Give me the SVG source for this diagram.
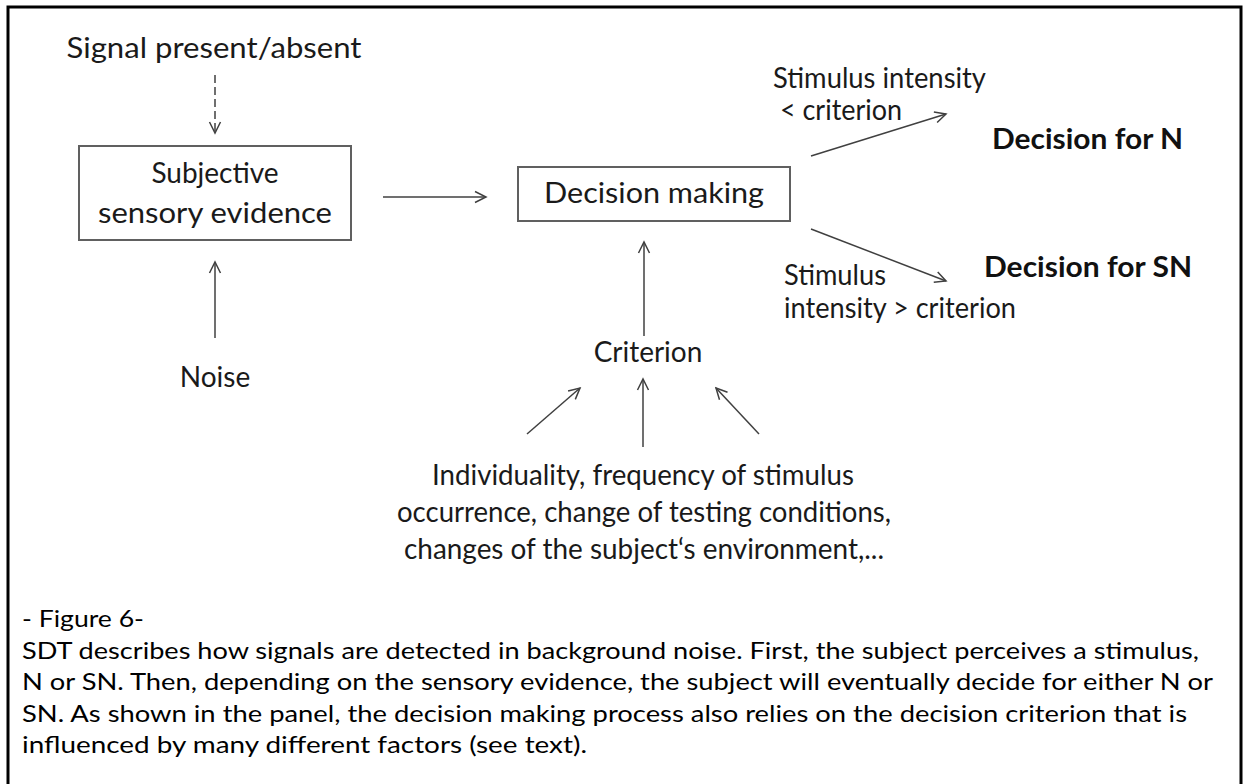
<svg xmlns="http://www.w3.org/2000/svg" width="1244" height="784" viewBox="0 0 1244 784">
<defs>
<marker id="arr" markerUnits="userSpaceOnUse" markerWidth="14" markerHeight="14" viewBox="0 0 14 14" refX="12" refY="7" orient="auto">
<path d="M1,1.5 L12,7 L1,12.5" fill="none" stroke="#404040" stroke-width="1.5"/>
</marker>
</defs>
<style>
text{font-family:Lato,"Open Sans","Liberation Sans",sans-serif;fill:#1a1a1a;}
.t{font-size:28px;}
.b{font-size:28px;font-weight:bold;fill:#111;}
.c{font-size:23.5px;fill:#000;}
.box{fill:#fff;stroke:#606060;stroke-width:2;}
.ln{stroke:#404040;stroke-width:1.5;fill:none;marker-end:url(#arr);}
</style>
<rect width="1244" height="784" fill="#fff"/>
<rect x="8" y="7" width="1233" height="800" fill="none" stroke="#000" stroke-width="3"/>
<g id="connectors">
<line class="ln" x1="215" y1="75" x2="215" y2="133" stroke-dasharray="8,4"/>
<line class="ln" x1="215" y1="338" x2="215" y2="262"/>
<line class="ln" x1="383" y1="197" x2="486" y2="197"/>
<line class="ln" x1="644" y1="336" x2="644" y2="242"/>
<line class="ln" x1="811" y1="156" x2="946" y2="114"/>
<line class="ln" x1="811" y1="229" x2="946" y2="281"/>
<line class="ln" x1="527" y1="434" x2="580" y2="388"/>
<line class="ln" x1="643" y1="447" x2="643" y2="379"/>
<line class="ln" x1="759" y1="434" x2="716" y2="388"/>
</g>
<g id="signal"><text class="t" x="214" y="58" text-anchor="middle" textLength="295" lengthAdjust="spacingAndGlyphs">Signal present/absent</text></g>
<g id="subjective">
<rect class="box" x="79" y="146" width="272" height="94"/>
<text class="t" x="215" y="183" text-anchor="middle">Subjective</text>
<text class="t" x="215" y="223" text-anchor="middle" textLength="234" lengthAdjust="spacingAndGlyphs">sensory evidence</text>
</g>
<g id="noise"><text class="t" x="215" y="387" text-anchor="middle">Noise</text></g>
<g id="decision">
<rect class="box" x="518" y="167" width="272" height="54"/>
<text class="t" x="654" y="203" text-anchor="middle" textLength="220" lengthAdjust="spacingAndGlyphs">Decision making</text>
</g>
<g id="criterion"><text class="t" x="648" y="362" text-anchor="middle">Criterion</text></g>
<g id="factors">
<text class="t" x="643" y="485" text-anchor="middle" textLength="422" lengthAdjust="spacingAndGlyphs">Individuality, frequency of stimulus</text>
<text class="t" x="644" y="522" text-anchor="middle" textLength="494" lengthAdjust="spacingAndGlyphs">occurrence, change of testing conditions,</text>
<text class="t" x="644" y="559" text-anchor="middle" textLength="480" lengthAdjust="spacingAndGlyphs">changes of the subject‘s environment,...</text>
</g>
<g id="stim-low-label">
<text class="t" x="773" y="88" textLength="213" lengthAdjust="spacingAndGlyphs">Stimulus intensity</text>
<text class="t" x="780" y="120" textLength="122" lengthAdjust="spacingAndGlyphs">&lt; criterion</text>
</g>
<g id="decision-n"><text class="b" x="992" y="149" textLength="191" lengthAdjust="spacingAndGlyphs">Decision for N</text></g>
<g id="decision-sn"><text class="b" x="984" y="277" textLength="208" lengthAdjust="spacingAndGlyphs">Decision for SN</text></g>
<g id="stim-high-label">
<text class="t" x="784" y="285" textLength="102" lengthAdjust="spacingAndGlyphs">Stimulus</text>
<text class="t" x="784" y="318" textLength="232" lengthAdjust="spacingAndGlyphs">intensity &gt; criterion</text>
</g>
<g id="caption">
<text class="c" x="22" y="627" textLength="122" lengthAdjust="spacingAndGlyphs">- Figure 6-</text>
<text class="c" x="22" y="659" textLength="1177" lengthAdjust="spacingAndGlyphs">SDT describes how signals are detected in background noise. First, the subject perceives a stimulus,</text>
<text class="c" x="22" y="690" textLength="1191" lengthAdjust="spacingAndGlyphs">N or SN. Then, depending on the sensory evidence, the subject will eventually decide for either N or</text>
<text class="c" x="22" y="722" textLength="1165" lengthAdjust="spacingAndGlyphs">SN. As shown in the panel, the decision making process also relies on the decision criterion that is</text>
<text class="c" x="22" y="753" textLength="565" lengthAdjust="spacingAndGlyphs">influenced by many different factors (see text).</text>
</g>
</svg>
